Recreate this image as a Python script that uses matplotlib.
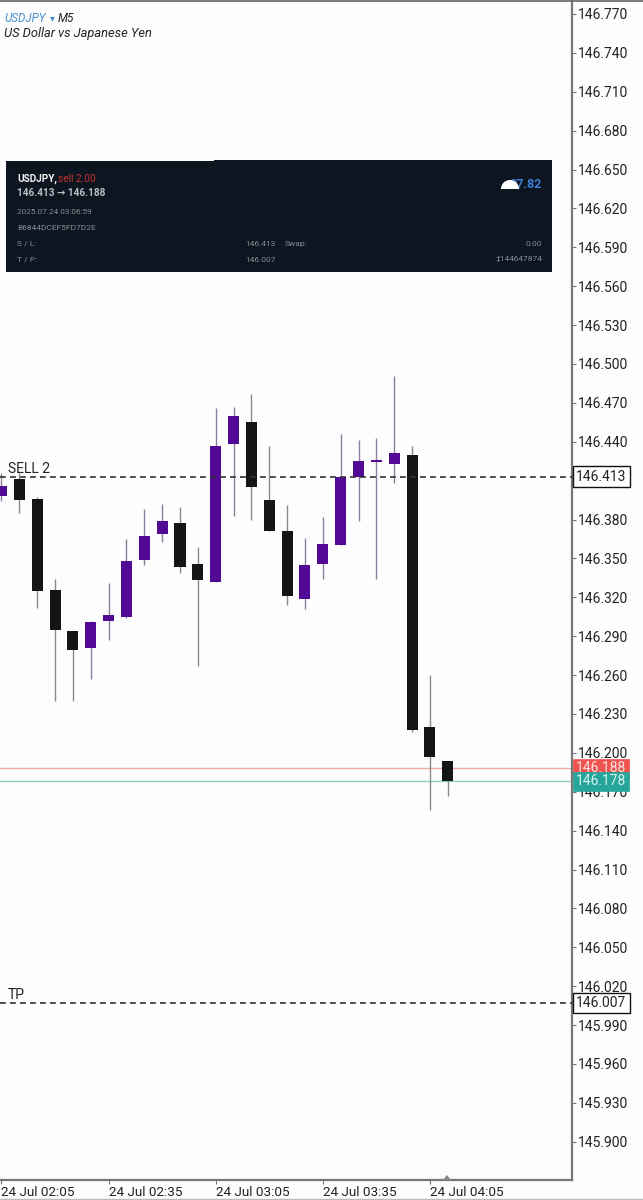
import matplotlib
matplotlib.use('Agg')
import matplotlib.pyplot as plt
from matplotlib.patches import Rectangle, Wedge, Polygon

# candle values, 5 min bars
opens = [146.398, 146.411, 146.396, 146.326, 146.294, 146.281, 146.302, 146.305, 146.349,
         146.369, 146.377, 146.346, 146.332, 146.438, 146.455, 146.395, 146.371, 146.319,
         146.346, 146.360, 146.413, 146.424, 146.423, 146.430, 146.220, 146.194]
closes = [146.406, 146.395, 146.325, 146.295, 146.279, 146.301, 146.306, 146.348, 146.367,
          146.379, 146.343, 146.333, 146.437, 146.460, 146.405, 146.371, 146.321, 146.345,
          146.361, 146.413, 146.425, 146.426, 146.431, 146.218, 146.197, 146.178]
highs = [146.416, 146.416, 146.397, 146.334, 146.294, 146.302, 146.331, 146.365, 146.388,
         146.392, 146.390, 146.359, 146.466, 146.467, 146.477, 146.437, 146.391, 146.366,
         146.382, 146.446, 146.441, 146.443, 146.491, 146.437, 146.260, 146.194]
lows = [146.394, 146.385, 146.312, 146.240, 146.240, 146.257, 146.287, 146.304, 146.345,
        146.363, 146.339, 146.267, 146.332, 146.383, 146.380, 146.371, 146.314, 146.311,
        146.334, 146.360, 146.379, 146.334, 146.408, 146.216, 146.156, 146.167]

price_ticks = [146.770, 146.740, 146.710, 146.680, 146.650, 146.620, 146.590, 146.560, 146.530,
               146.500, 146.470, 146.440, 146.380, 146.350, 146.320, 146.290, 146.260, 146.230,
               146.200, 146.170, 146.140, 146.110, 146.080, 146.050, 146.020, 145.990, 145.960,
               145.930, 145.900]
time_pos = [0, 6, 12, 18, 24]
time_labels = ['24 Jul 02:05', '24 Jul 02:35', '24 Jul 03:05', '24 Jul 03:35', '24 Jul 04:05']

sell_price = 146.413
tp_price = 146.007
bid_price = 146.178
ask_price = 146.188

BG = '#fdfdfd'
PURPLE = '#520a96'
BLACK = '#151515'
FONT = ['Roboto', 'DejaVu Sans']
GREY = '#878e96'

fig = plt.figure(figsize=(6.43, 12), dpi=100, facecolor=BG)
ax = fig.add_axes([0, 20 / 1200, 572 / 643, 1179 / 1200], facecolor=BG)
ax.set_xlim(-0.084, 31.96)
ax.set_ylim(145.8705, 146.780)

# candles
for i in range(len(opens)):
    up = closes[i] >= opens[i]
    ax.vlines(i, lows[i], highs[i], color='#8d7f9c' if up else '#8a8a8a', lw=1.0, zorder=2)
    ax.bar(i, closes[i] - opens[i], bottom=opens[i], width=0.62,
           color=PURPLE if up else BLACK, zorder=3)

# price lines
ax.axhline(sell_price, color='#333333', lw=1.2, ls=(0, (3.5, 2.5)), zorder=4)
ax.axhline(tp_price, color='#333333', lw=1.2, ls=(0, (3.5, 2.5)), zorder=4)
ax.axhline(ask_price, color='#e9aaa3', lw=1, zorder=1)
ax.axhline(bid_price, color='#8fd0c9', lw=1, zorder=1)
ax.annotate('SELL 2', (8 / 572, sell_price), xycoords=ax.get_yaxis_transform(), xytext=(0, 0.8),
            textcoords='offset points', family=FONT, fontsize=10, color='#222222', va='bottom')
ax.annotate('TP', (8 / 572, tp_price), xycoords=ax.get_yaxis_transform(), xytext=(0, 0.8),
            textcoords='offset points', family=FONT, fontsize=10, color='#222222', va='bottom')

ax.set_yticks(price_ticks, [f'{p:.3f}' for p in price_ticks])
ax.yaxis.tick_right()
ax.tick_params(axis='y', length=3, width=0.8, color='#777777', pad=1, labelsize=10, labelcolor='#222222')
ax.set_xticks(time_pos, time_labels, ha='left')
ax.tick_params(axis='x', length=3, width=0.8, color='#777777', pad=1.5, labelsize=9.7, labelcolor='#222222')
for lab in ax.get_xticklabels() + ax.get_yticklabels():
    lab.set_family(FONT)

for side in ['left', 'top']:
    ax.spines[side].set_visible(False)
ax.spines['right'].set_color('#777777')
ax.spines['right'].set_linewidth(1.6)
ax.spines['bottom'].set_color('#777777')
ax.spines['bottom'].set_linewidth(1.6)

# boxed price labels on the scale
lab_x = 1 + 4 / 572
ax.text(lab_x, sell_price, f'{sell_price:.3f}', transform=ax.get_yaxis_transform(), family=FONT,
        fontsize=10, color='#222222', va='center', zorder=6, clip_on=False,
        bbox=dict(boxstyle='square,pad=0.24', fc='white', ec='#111111', lw=1))
ax.text(lab_x, tp_price, f'{tp_price:.3f}', transform=ax.get_yaxis_transform(), family=FONT,
        fontsize=10, color='#222222', va='center', zorder=6, clip_on=False,
        bbox=dict(boxstyle='square,pad=0.24', fc='white', ec='#111111', lw=1))
ax.text(lab_x, ask_price, f'{ask_price:.3f}', transform=ax.get_yaxis_transform(), family=FONT,
        fontsize=10, color='#fbe3e0', va='center', zorder=6, clip_on=False,
        bbox=dict(boxstyle='square,pad=0.2', fc='#ef5350', ec='#ef5350', lw=0.5))
ax.text(lab_x, bid_price, f'{bid_price:.3f}', transform=ax.get_yaxis_transform(), family=FONT,
        fontsize=10, color='#d8f2ef', va='center', zorder=7, clip_on=False,
        bbox=dict(boxstyle='square,pad=0.2', fc='#26a69a', ec='#26a69a', lw=0.5))

# overlay in pixel coordinates for the header and the pasted trade panel
ov = fig.add_axes([0, 0, 1, 1], facecolor='none')
ov.set_xlim(0, 643)
ov.set_ylim(1200, 0)
ov.axis('off')

ov.plot([0, 643], [0.5, 0.5], color='#666666', lw=1.2)
ov.plot([0, 643], [1198.5, 1198.5], color='#bbbbbb', lw=1)
ov.add_patch(Polygon([(443, 1180), (447, 1175), (451, 1180)], fc='#888888', ec='none'))

ov.text(4, 18, 'USDJPY', color='#4a8fd0', fontsize=8.4, style='italic', family=FONT, va='center')
ov.text(50, 18, '▾', color='#4a8fd0', fontsize=7, family=['DejaVu Sans'], va='center')
ov.text(58, 18, 'M5', color='#222222', fontsize=8.5, style='italic', family=FONT, va='center')
ov.text(4, 33.5, 'US Dollar vs Japanese Yen', color='#222222', fontsize=9.3, style='italic', family=FONT, va='center')

ov.add_patch(Rectangle((6, 161), 546, 111, fc='#0c1520', ec='none'))
ov.add_patch(Rectangle((214, 160), 338, 2, fc='#0c1520', ec='none'))
ov.add_patch(Rectangle((60, 270), 285, 2, fc='#0c1520', ec='none'))

ov.text(17, 179, 'USDJPY,', color='#f2f2f2', fontsize=7.2, weight='bold', family=FONT, va='center')
ov.text(58, 179, 'sell 2.00', color='#c8322f', fontsize=7.3, family=FONT, va='center')
ov.text(17, 193, '146.413 → 146.188', color='#b9bec4', fontsize=7.2, weight='bold', family=FONT, va='center')
ov.text(17, 211.5, '2025.07.24 03:06:59', color=GREY, fontsize=5.9, family=FONT, va='center')
ov.text(17, 228, 'B6844DCEF5FD7D2E', color=GREY, fontsize=6, family=FONT, va='center')
ov.text(17, 244, 'S / L:', color=GREY, fontsize=6, family=FONT, va='center')
ov.text(17, 259.5, 'T / P:', color=GREY, fontsize=6, family=FONT, va='center')
ov.text(245, 244, '146.413', color=GREY, fontsize=6, family=FONT, va='center')
ov.text(285, 244, 'Swap:', color=GREY, fontsize=6, family=FONT, va='center')
ov.text(245, 259.5, '146.007', color=GREY, fontsize=6, family=FONT, va='center')
ov.text(542, 244, '0.00', color=GREY, fontsize=6, family=FONT, va='center', ha='right')
ov.text(542, 259.5, '‡144647874', color=GREY, fontsize=6, family=FONT, va='center', ha='right')
ov.text(542, 184.5, '07.82', color='#3f7fd6', fontsize=9, weight='bold', family=FONT, va='center', ha='right')
ov.add_patch(Wedge((510, 189), 9, 180, 360, fc='white', ec='none', zorder=5))

fig.savefig('out.png', dpi=100, facecolor=BG)
